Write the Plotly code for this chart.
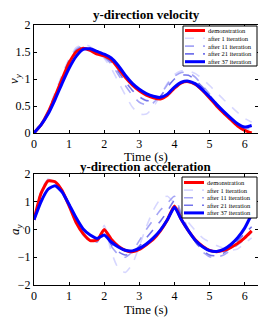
import plotly.graph_objects as go

t = [round(0.2 * i, 1) for i in range(32)]

series_names = ["demonstration", "after 1 iteration", "after 11 iteration",
                "after 21 iteration", "after 37 iteration"]

vel_demo = [0, 0.15, 0.38, 0.68, 1.0, 1.3, 1.5, 1.57, 1.53, 1.46, 1.43, 1.36, 1.2, 1.03, 0.89, 0.78,
            0.7, 0.65, 0.63, 0.7, 0.83, 0.93, 0.95, 0.9, 0.79, 0.65, 0.5, 0.37, 0.25, 0.13, 0.05, 0.0]
vel_it1 = [0, 0.17, 0.42, 0.75, 1.08, 1.38, 1.58, 1.65, 1.6, 1.48, 1.38, 1.2, 0.95, 0.7, 0.48, 0.35,
           0.35, 0.48, 0.7, 0.92, 1.08, 1.15, 1.15, 1.1, 1.0, 0.88, 0.75, 0.62, 0.5, 0.38, 0.27, 0.2]
vel_it11 = [0, 0.16, 0.4, 0.72, 1.05, 1.35, 1.55, 1.62, 1.57, 1.47, 1.4, 1.28, 1.08, 0.88, 0.7, 0.57,
            0.52, 0.56, 0.7, 0.9, 1.05, 1.12, 1.12, 1.03, 0.88, 0.72, 0.55, 0.4, 0.27, 0.15, 0.08, 0.08]
vel_it21 = [0, 0.16, 0.39, 0.7, 1.02, 1.33, 1.53, 1.6, 1.56, 1.48, 1.42, 1.32, 1.14, 0.95, 0.79, 0.67,
            0.6, 0.6, 0.68, 0.85, 1.0, 1.07, 1.07, 0.98, 0.85, 0.7, 0.54, 0.4, 0.27, 0.16, 0.1, 0.1]
vel_it37 = [0, 0.15, 0.35, 0.62, 0.92, 1.2, 1.42, 1.55, 1.56, 1.51, 1.46, 1.39, 1.25, 1.07, 0.92, 0.81,
            0.73, 0.68, 0.66, 0.72, 0.85, 0.94, 0.96, 0.91, 0.8, 0.67, 0.53, 0.4, 0.28, 0.17, 0.11, 0.14]

acc_demo = [0.35, 1.3, 1.75, 1.72, 1.4, 0.85, 0.25, -0.15, -0.4, -0.38, 0.0, -0.35, -0.6, -0.75, -0.8, -0.72,
            -0.55, -0.35, -0.05, 0.35, 0.85, 0.35, -0.05, -0.38, -0.6, -0.75, -0.8, -0.75, -0.65, -0.5, -0.3, -0.05]
acc_it1 = [0.35, 1.4, 1.82, 1.75, 1.35, 0.8, 0.2, -0.2, -0.4, -0.45, 0.15, -0.8, -1.4, -1.55, -1.25, -0.6,
           0.1, 0.7, 1.1, 1.2, 0.95, 0.6, 0.25, -0.05, -0.3, -0.45, -0.58, -0.68, -0.75, -0.7, -0.5, -0.3]
acc_it11 = [0.35, 1.35, 1.78, 1.75, 1.4, 0.85, 0.25, -0.2, -0.42, -0.45, 0.05, -0.6, -0.9, -1.0, -0.8, -0.4,
            0.0, 0.35, 0.7, 0.95, 1.2, 0.55, 0.0, -0.45, -0.8, -0.98, -1.0, -0.92, -0.75, -0.55, -0.35, -0.1]
acc_it21 = [0.35, 1.3, 1.75, 1.75, 1.42, 0.88, 0.3, -0.15, -0.38, -0.42, -0.1, -0.55, -0.8, -0.92, -0.85, -0.6,
            -0.3, 0.0, 0.3, 0.65, 1.05, 0.45, -0.05, -0.45, -0.75, -0.92, -0.95, -0.85, -0.65, -0.4, -0.15, 0.1]
acc_it37 = [0.35, 1.0, 1.45, 1.58, 1.35, 0.9, 0.42, 0.02, -0.2, -0.32, -0.2, -0.45, -0.63, -0.75, -0.77, -0.68,
            -0.52, -0.3, -0.02, 0.35, 0.8, 0.35, -0.05, -0.4, -0.62, -0.76, -0.79, -0.72, -0.55, -0.3, 0.05, 0.55]

x_ticks = [0, 1, 2, 3, 4, 5, 6]
vel_ticks = [0, 0.5, 1, 1.5, 2]
vel_tick_text = ["0", "0.5", "1", "1.5", "2"]
acc_ticks = [-2, -1, 0, 1, 2]

# page body has an 8px default margin; figure sized to fill the rest of the window
OFF = 8
W, H = 266 - OFF, 319 - OFF


def px(x):
    return (x - OFF) / W


def py(y):
    return 1 - (y - OFF) / H


styles = [
    dict(color="rgb(255,0,0)", width=3, dash="solid"),
    dict(color="rgb(215,215,255)", width=1.6, dash="dash"),
    dict(color="rgb(165,165,245)", width=1.6, dash="dash"),
    dict(color="rgb(115,115,235)", width=1.6, dash="dash"),
    dict(color="rgb(0,0,255)", width=3, dash="solid"),
]
draw_order = [1, 2, 3, 0, 4]

vel_all = [vel_demo, vel_it1, vel_it11, vel_it21, vel_it37]
acc_all = [acc_demo, acc_it1, acc_it11, acc_it21, acc_it37]

fig = go.Figure()
for k in draw_order:
    fig.add_trace(go.Scatter(x=t, y=vel_all[k], mode="lines", name=series_names[k],
                             line=dict(shape="spline", smoothing=0.5, **styles[k]),
                             xaxis="x", yaxis="y", showlegend=False))
for k in draw_order:
    fig.add_trace(go.Scatter(x=t, y=acc_all[k], mode="lines", name=series_names[k],
                             line=dict(shape="spline", smoothing=0.5, **styles[k]),
                             xaxis="x2", yaxis="y2", showlegend=False))

font = "Liberation Serif, Times New Roman, DejaVu Serif, serif"
axis_common = dict(showline=True, linecolor="black", linewidth=1, mirror="ticks", ticks="inside",
                   ticklen=3, tickcolor="black", showgrid=False, zeroline=False, automargin=False,
                   tickfont=dict(family=font, size=12, color="black"))

fig.update_layout(
    width=W, height=H, margin=dict(l=0, r=0, t=0, b=0, autoexpand=False),
    paper_bgcolor="white", plot_bgcolor="white", showlegend=False,
    font=dict(family=font, color="black"),
    xaxis=dict(domain=[px(34), px(258)], range=[0, 6.38], tickvals=x_ticks, anchor="y", **axis_common),
    yaxis=dict(domain=[py(133), py(25)], range=[0, 2], tickvals=vel_ticks, ticktext=vel_tick_text,
               anchor="x", **axis_common),
    xaxis2=dict(domain=[px(34), px(258)], range=[0, 6.38], tickvals=x_ticks, anchor="y2", **axis_common),
    yaxis2=dict(domain=[py(285), py(174)], range=[-2, 2], tickvals=acc_ticks, anchor="x2", **axis_common),
)

ann_font = dict(family=font, size=13, color="black")


def text(s, x, y, **kw):
    fig.add_annotation(text=s, x=px(x), y=py(y), xref="paper", yref="paper",
                       xanchor="center", yanchor="middle", showarrow=False, **kw)


text("<b>y-direction velocity</b>", 146, 15, font=ann_font)
text("<b>y-direction acceleration</b>", 146, 166, font=ann_font)
text("Time (s)", 146, 156, font=ann_font)
text("Time (s)", 146, 309, font=ann_font)
text("<i>v<sub>y</sub></i>", 15, 79, textangle=-90, font=ann_font)
text("<i>a<sub>y</sub></i>", 15, 229, textangle=-90, font=ann_font)


def legend_box(x0, y0, x1, y1, row0, step):
    fig.add_shape(type="rect", xref="paper", yref="paper", x0=px(x0), x1=px(x1), y0=py(y1), y1=py(y0),
                  line=dict(color="black", width=1), fillcolor="white", layer="above")
    for i, name in enumerate(series_names):
        yy = row0 + step * i
        fig.add_shape(type="line", xref="paper", yref="paper", x0=px(x0 + 2), x1=px(x0 + 22),
                      y0=py(yy), y1=py(yy), line=styles[i], layer="above")
        fig.add_annotation(text=name, x=px(x0 + 23), y=py(yy), xref="paper", yref="paper",
                           xanchor="left", yanchor="middle", showarrow=False,
                           font=dict(family=font, size=6.5, color="black"))


legend_box(183, 26, 257, 66, 30.5, 7.8)
legend_box(182, 177, 257, 218, 182.5, 7.6)

fig.write_html("out.html")
